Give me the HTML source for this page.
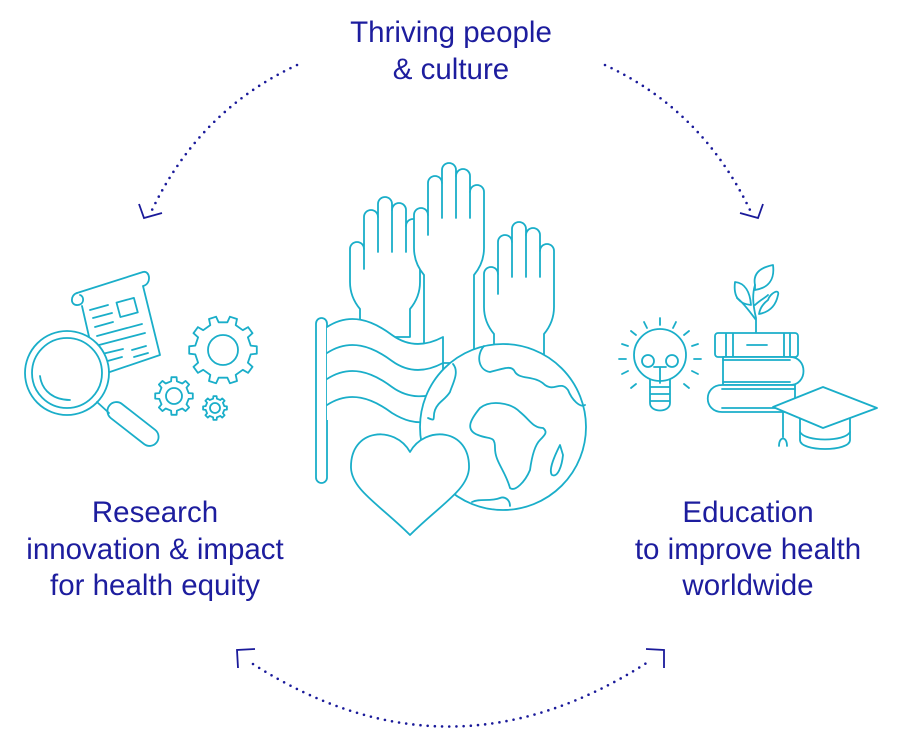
<!DOCTYPE html>
<html><head><meta charset="utf-8"><style>
html,body{margin:0;padding:0;background:#fff;}
svg{display:block}
text{font-family:"Liberation Sans",sans-serif;font-size:29.5px;fill:#1d1d9e;text-anchor:middle}
.t{fill:none;stroke:#1aaec9;stroke-width:1.8;stroke-linejoin:round;stroke-linecap:round}
.w{fill:#fff}
.d{fill:none;stroke:#1a1a9a;stroke-width:2.6;stroke-linecap:round;stroke-dasharray:0 7.2}
.a{fill:none;stroke:#1a1a9a;stroke-width:1.8}
</style></head><body>
<svg id="s" width="900" height="744" viewBox="0 0 900 744">
<text x="451" y="42">Thriving people</text>
<text x="451" y="79">&amp; culture</text>
<text x="155" y="522">Research</text>
<text x="155" y="559">innovation &amp; impact</text>
<text x="155" y="595">for health equity</text>
<text x="748" y="522">Education</text>
<text x="748" y="559">to improve health</text>
<text x="748" y="595">worldwide</text>

<path class="d" d="M297,65 Q200,110 152,210"/>
<path class="a" d="M139,204 L144,218 L162,213"/>
<path class="d" d="M605,65 Q702,110 750,210"/>
<path class="a" d="M763,204 L758,218 L740,213"/>
<path class="d" d="M253,664 Q450,790 648,662"/>
<path class="a" d="M238,668 L237,650 L255,649"/>
<path class="a" d="M646,649 L664,650 L664,668"/>

<g id="hands"></g>
<rect class="t w" x="316" y="318" width="11" height="165" rx="5.5"/>
<path class="t w" d="M327,327 C350,312 372,320 392,335 C410,348 428,345 443,337 L443,420 L327,420 Z" style="stroke:none"/>
<path class="t" d="M327,327 C350,312 372,320 392,335 C410,348 428,345 443,337 L443,370"/>
<path class="t" d="M327,353 C350,338 372,346 392,361 C410,374 428,371 443,363"/>
<path class="t" d="M327,379 C350,364 372,372 392,387 C410,400 428,397 440,392"/>
<path class="t" d="M327,405 C350,390 372,398 392,413 C405,421 415,423 425,422"/>
<circle class="t w" cx="503" cy="427" r="83"/>
<path class="t" d="M484,346 C476,355 478,370 490,372 C505,368 512,365 515,372 C520,380 535,375 545,385 C555,392 560,380 568,390 C572,400 580,408 585,405"/>
<path class="t" d="M453,364 C460,372 452,385 450,392 C445,400 438,402 435,410 C432,418 437,422 428,418"/>
<path class="t" d="M480,408 C470,420 465,430 478,435 C490,440 495,435 495,448 C495,462 505,470 510,488 C515,492 525,482 530,470 C532,455 535,445 540,440 C545,435 548,432 543,428 C533,428 530,420 520,412 C510,402 490,400 480,408 Z"/>
<path class="t" d="M560,445 C555,455 548,470 552,475 C558,478 562,465 563,455 Z"/>
<path class="t" d="M472,502 C480,498 490,502 500,498 C505,496 510,500 510,506"/>
<path class="t w" d="M410,452 C395,425 350,428 351,468 C352,490 380,505 410,535 C440,505 468,490 469,468 C470,428 425,425 410,452 Z"/>

<path class="t w" d="M77,293 L143,272 C150,270 152,284 143,286 L160,355 L98,376 L82,306"/>
<path class="t" d="M77,293 C70,295 70,306 78,305 C85,304 84,296 80,295"/>
<rect class="t" x="118" y="300" width="18" height="15" transform="rotate(-15 127 307)"/>
<path class="t" d="M90,310 L108,305 M93,318 L112,313 M95,327 L113,322 M97,336 L142,324 M99,345 L145,333 M102,354 L123,349 M104,362 L122,357 M132,350 L146,346 M134,357 L148,353"/>
<circle class="t w" cx="67" cy="373" r="42"/>
<circle class="t" cx="67" cy="373" r="35"/>
<path class="t" d="M40,376 C42,392 55,400 70,400"/>
<path class="t" d="M97,402 L109,413"/>
<rect class="t" x="103" y="415" width="60" height="18" rx="9" transform="rotate(38 133 424)"/>
<g id="gears"></g>

<circle class="t" cx="660" cy="355" r="26"/>
<circle class="t" cx="648" cy="361" r="6"/>
<circle class="t" cx="672" cy="361" r="6"/>
<path class="t" d="M654,367 L666,367 M660,367 L660,383"/>
<path class="t" d="M650,380 L650,403 C650,413 670,413 670,403 L670,380 M650,387 L670,387 M650,394 L670,394 M650,401 L670,401"/>
<path class="t" d="M660,318 L660,325 M644,322 L647,328 M676,322 L673,328 M631,331 L636,335 M689,331 L684,335 M622,344 L628,346 M698,344 L692,346 M619,359 L626,359 M701,359 L694,359 M622,374 L628,371 M698,374 L692,371 M631,388 L636,384 M689,388 L684,384"/>
<path class="t" d="M756,332 L756,318 C753,305 752,295 755,285 M755,305 C760,300 765,298 768,295 M756,320 C745,305 740,300 737,298"/>
<path class="t" d="M755,285 C753,275 758,268 773,265 C775,280 768,288 755,290 Z"/>
<path class="t" d="M768,300 C770,293 780,288 778,295 C776,305 770,312 759,314 C760,308 764,303 768,300 Z"/>
<path class="t" d="M735,282 C745,283 750,292 751,305 C740,304 733,298 735,282 Z"/>
<rect class="t w" x="715" y="333" width="83" height="24" rx="3"/>
<path class="t" d="M726,334 L726,356 M733,334 L733,356 M784,334 L784,356 M790,334 L790,356 M747,345 L767,345"/>
<path class="t w" d="M723,357 L790,357 C808,357 808,385 790,385 L723,385 Z"/>
<path class="t" d="M723,360 L790,360 M723,382 L790,382"/>
<path class="t w" d="M795,385 L722,385 C703,385 703,412 722,412 L795,412 Z"/>
<path class="t" d="M722,389 L795,389 M722,408 L795,408"/>
<path class="t w" d="M800,415 L800,440 C800,452 850,452 850,440 L850,415 Z"/>
<path class="t" d="M800,432 C805,442 845,442 850,432"/>
<path class="t w" d="M773,407 L823,387 L877,408 L823,428 Z"/>
<path class="t" d="M783,412 L783,437 M779,446 C779,436 787,436 787,446"/>
</svg>
<script>
var NS="http://www.w3.org/2000/svg";
function hand(x,y,h){
 var d="M10,"+h+" L10,112 Q0,100 0,85 L0,52 A7,7 0 0 1 14,52 L14,20 A7,7 0 0 1 28,20 L28,7 A7,7 0 0 1 42,7 L42,13 A7,7 0 0 1 56,13 L56,29 A7,7 0 0 1 70,29 L70,85 Q70,100 60,112 L60,"+h+" Z";
 var g=document.createElementNS(NS,"g");g.setAttribute("transform","translate("+x+","+y+")");
 var p=document.createElementNS(NS,"path");p.setAttribute("class","t w");p.setAttribute("d",d);g.appendChild(p);
 var q=document.createElementNS(NS,"path");q.setAttribute("class","t");q.setAttribute("d","M14,52 L14,72 M28,20 L28,55 M42,13 L42,55 M56,29 L56,55");g.appendChild(q);
 document.getElementById("hands").appendChild(g);
}
hand(350,197,140);hand(414,163,200);hand(484,222,140);
function gear(cx,cy,R,r,n,hole){
 var pts=[];
 for(var i=0;i<n;i++){var a=i*2*Math.PI/n,s=Math.PI/n;
  var angs=[a-s*0.5,a-s*0.35,a+s*0.35,a+s*0.5];
  var rr=[r,R,R,r];
  for(var k=0;k<4;k++)pts.push([cx+rr[k]*Math.cos(angs[k]),cy+rr[k]*Math.sin(angs[k])]);}
 var d="M"+pts.map(function(p){return p[0].toFixed(1)+","+p[1].toFixed(1)}).join(" L")+" Z";
 var p=document.createElementNS(NS,"path");p.setAttribute("class","t");p.setAttribute("d",d);
 document.getElementById("gears").appendChild(p);
 var c=document.createElementNS(NS,"circle");c.setAttribute("class","t");c.setAttribute("cx",cx);c.setAttribute("cy",cy);c.setAttribute("r",hole);
 document.getElementById("gears").appendChild(c);
}
gear(223,350,34,28,10,15);gear(174,396,19,15,8,8);gear(215,408,12,9.5,8,5);
</script>
</body></html>
